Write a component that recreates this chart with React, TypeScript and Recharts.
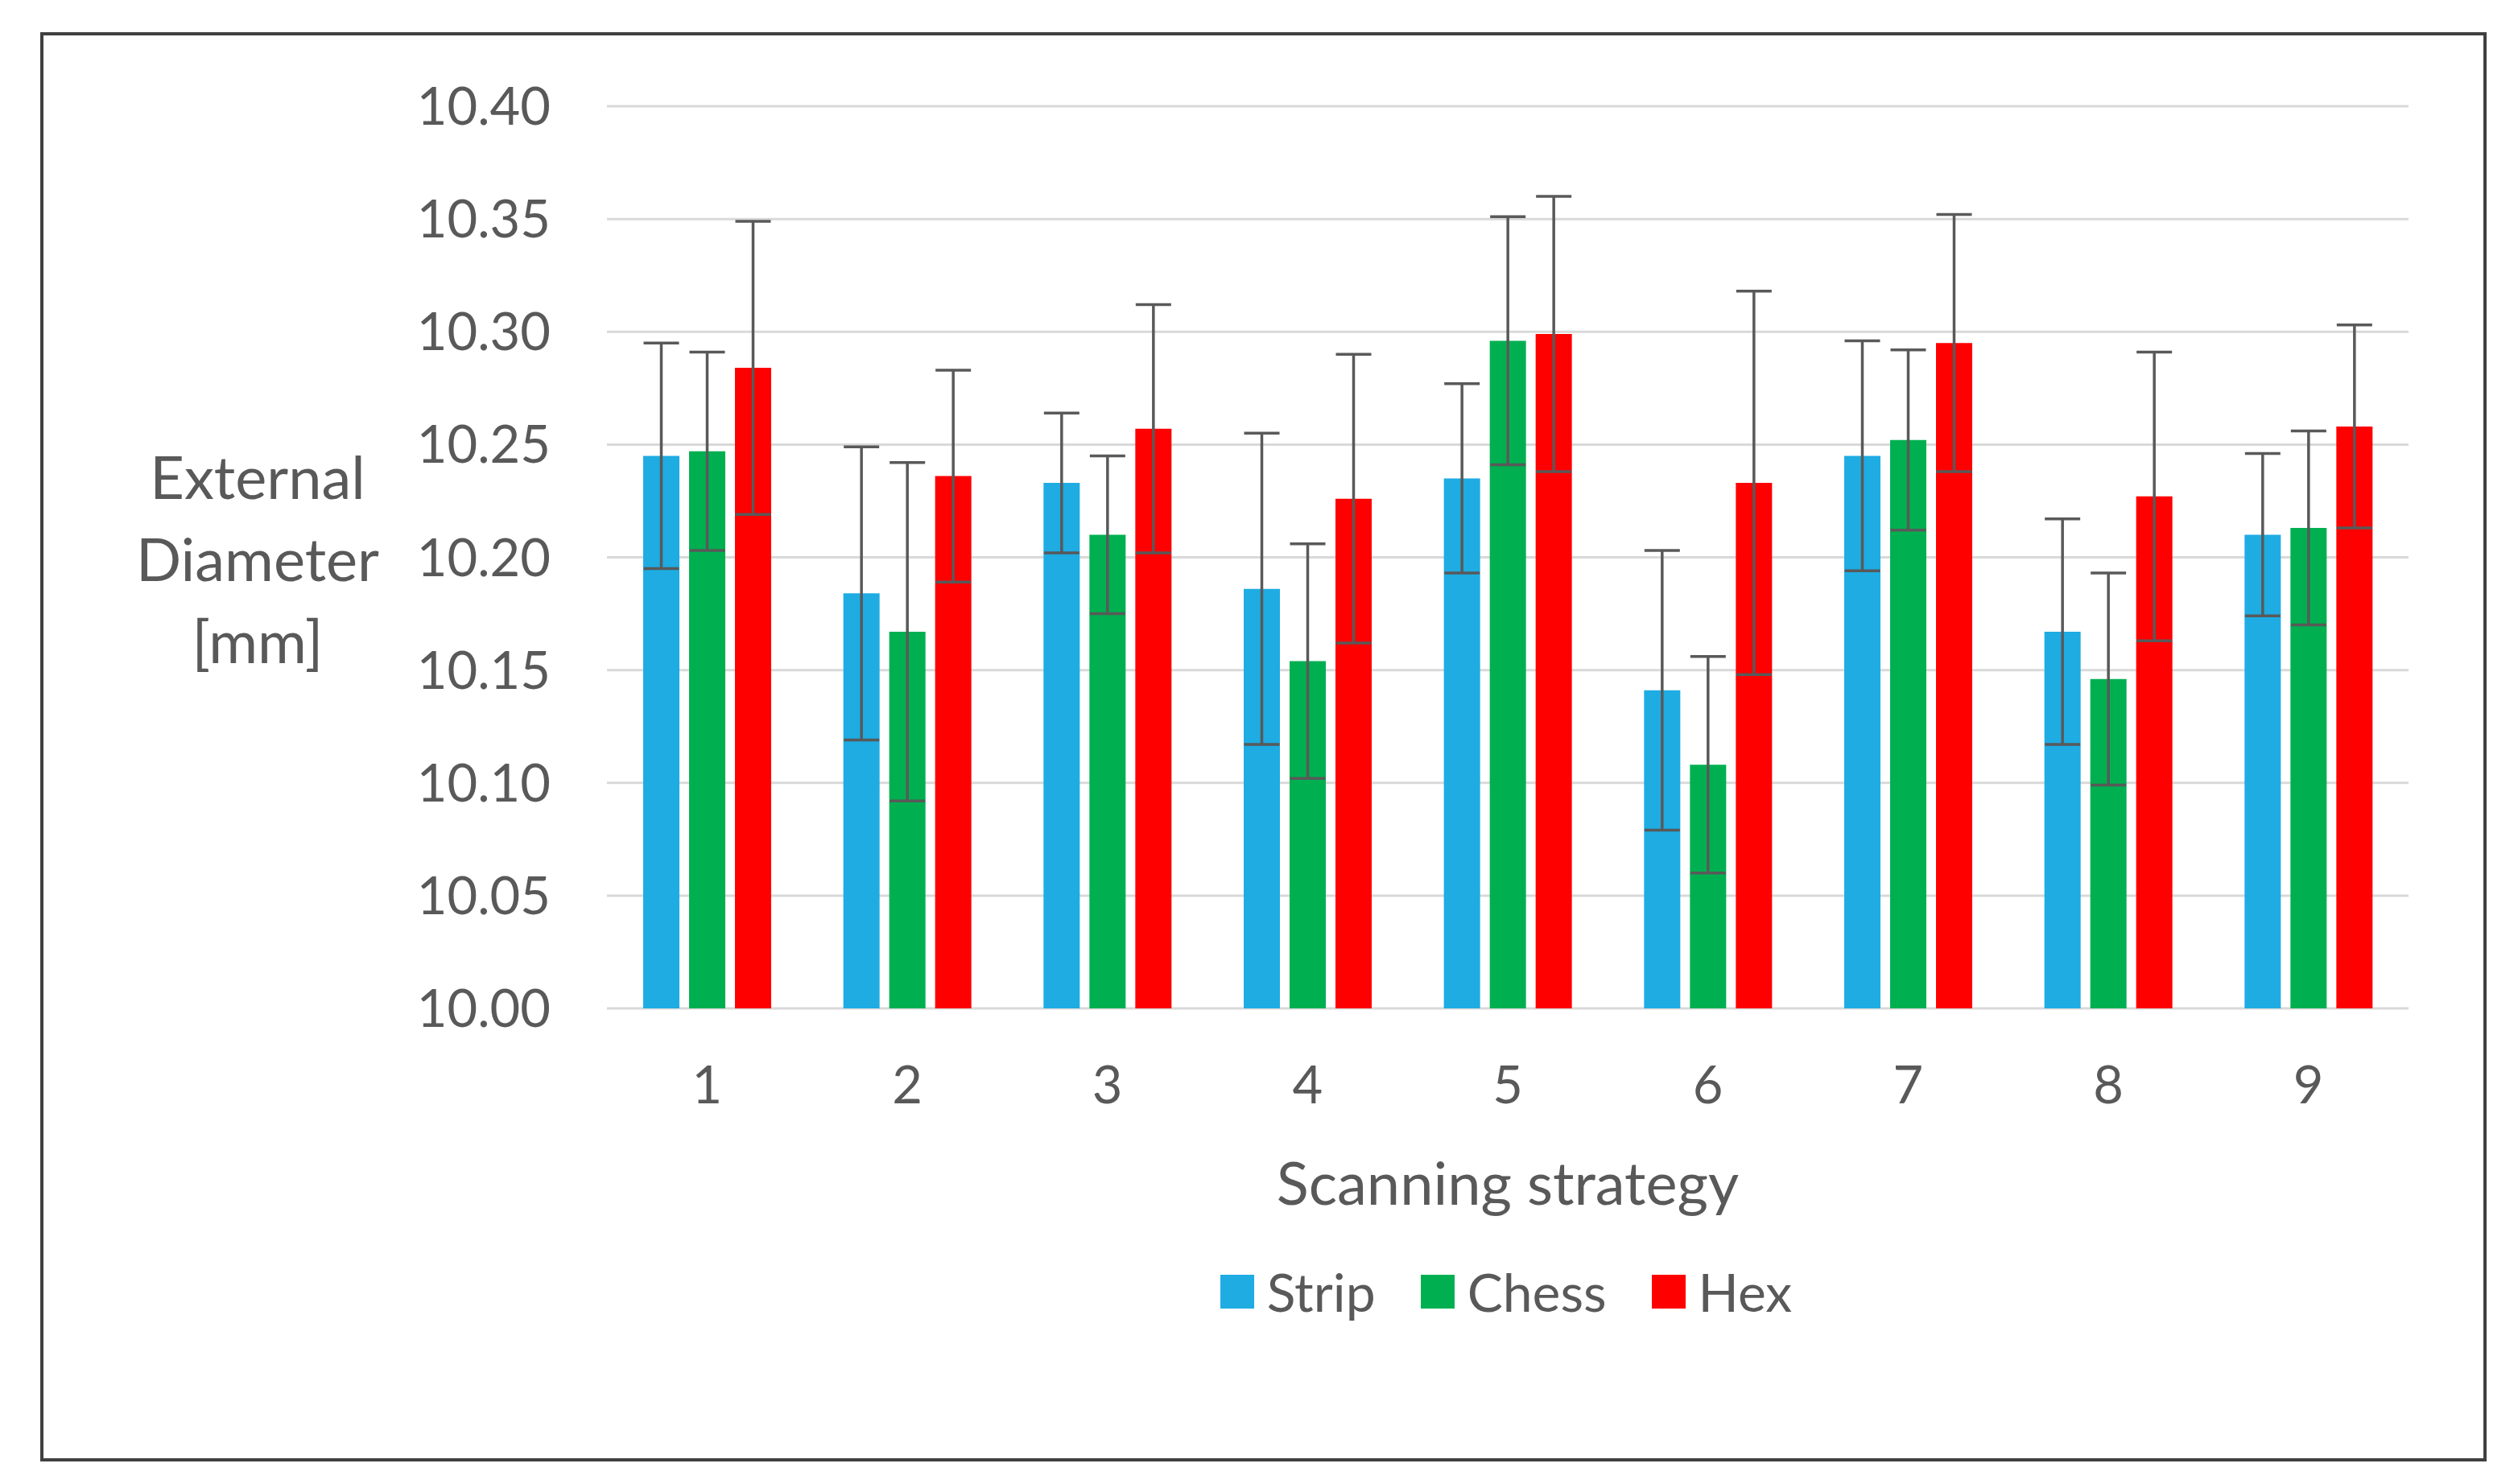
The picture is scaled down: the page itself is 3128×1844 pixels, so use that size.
import React from "react";
import {
  BarChart,
  Bar,
  XAxis,
  YAxis,
  CartesianGrid,
  ErrorBar,
  Legend,
} from "recharts";

// values
const strategies = ["1", "2", "3", "4", "5", "6", "7", "8", "9"];
const stripMean = [10.245, 10.184, 10.233, 10.186, 10.235, 10.141, 10.245, 10.167, 10.21];
const stripErr = [0.05, 0.065, 0.031, 0.069, 0.042, 0.062, 0.051, 0.05, 0.036];
const chessMean = [10.247, 10.167, 10.21, 10.154, 10.296, 10.108, 10.252, 10.146, 10.213];
const chessErr = [0.044, 0.075, 0.035, 0.052, 0.055, 0.048, 0.04, 0.047, 0.043];
const hexMean = [10.284, 10.236, 10.257, 10.226, 10.299, 10.233, 10.295, 10.227, 10.258];
const hexErr = [0.065, 0.047, 0.055, 0.064, 0.061, 0.085, 0.057, 0.064, 0.045];
const yTicks = [10.0, 10.05, 10.1, 10.15, 10.2, 10.25, 10.3, 10.35, 10.4];
const seriesOrder = ["Strip", "Chess", "Hex"];

const data = strategies.map((s, i) => ({
  name: s,
  strip: stripMean[i],
  stripErr: stripErr[i],
  chess: chessMean[i],
  chessErr: chessErr[i],
  hex: hexMean[i],
  hexErr: hexErr[i],
}));

const FONT = "Lato, 'Open Sans', sans-serif";
const TEXT = "#595959";
const ERR = "#595959";

const renderYLabel = () => (
  <text
    x={320}
    textAnchor="middle"
    fill={TEXT}
    fontSize={74}
    fontFamily={FONT}
  >
    <tspan x={320} y={620}>External</tspan>
    <tspan x={320} y={722}>Diameter</tspan>
    <tspan x={320} y={824}>[mm]</tspan>
  </text>
);

const renderXLabel = () => (
  <text
    x={1873}
    y={1497}
    textAnchor="middle"
    fill={TEXT}
    fontSize={74}
    fontFamily={FONT}
  >
    Scanning strategy
  </text>
);

const legendText = (value: string) => (
  <span
    style={{
      color: TEXT,
      fontSize: 66,
      fontFamily: FONT,
      marginLeft: 12,
      marginRight: 46,
      verticalAlign: "middle",
    }}
  >
    {value}
  </span>
);

export default function App() {
  return (
    <div
      style={{
        position: "absolute",
        left: 0,
        top: 0,
        width: 3128,
        height: 1844,
        background: "#fff",
      }}
    >
      <div
        style={{
          position: "absolute",
          left: 50,
          top: 40,
          width: 3031,
          height: 1768,
          border: "4px solid #404040",
        }}
      />
      <div style={{ position: "absolute", left: 0, top: 0 }}>
        <BarChart
          width={3128}
          height={1844}
          data={data}
          margin={{ top: 132, right: 136, left: 554, bottom: 341 }}
          barCategoryGap={45}
          barGap={12}
        >
          <CartesianGrid
            vertical={false}
            stroke="#D9D9D9"
            strokeWidth={3}
          />
          <XAxis
            dataKey="name"
            height={250}
            axisLine={false}
            tickLine={false}
            tickSize={0}
            tickMargin={72}
            tick={{ fill: TEXT, fontSize: 65, fontFamily: FONT }}
            label={{ content: renderXLabel }}
          />
          <YAxis
            width={200}
            domain={[10, 10.4]}
            ticks={yTicks}
            interval={0}
            axisLine={false}
            tickLine={false}
            tickSize={0}
            tickMargin={70}
            tickFormatter={(v: number) => v.toFixed(2)}
            tick={{ fill: TEXT, fontSize: 65, fontFamily: FONT }}
            label={{ content: renderYLabel }}
          />
          <Legend
            verticalAlign="middle"
            align="center"
            layout="horizontal"
            iconType="square"
            iconSize={42}
            itemSorter={(item: any) => seriesOrder.indexOf(item.value)}
            formatter={legendText}
            wrapperStyle={{ top: 1566, left: 780, width: 2238, lineHeight: "76px" }}
          />
          <Bar dataKey="strip" name="Strip" fill="#1EACE3" isAnimationActive={false}>
            <ErrorBar dataKey="stripErr" width={22} stroke={ERR} strokeWidth={3.5} />
          </Bar>
          <Bar dataKey="chess" name="Chess" fill="#00B050" isAnimationActive={false}>
            <ErrorBar dataKey="chessErr" width={22} stroke={ERR} strokeWidth={3.5} />
          </Bar>
          <Bar dataKey="hex" name="Hex" fill="#FF0000" isAnimationActive={false}>
            <ErrorBar dataKey="hexErr" width={22} stroke={ERR} strokeWidth={3.5} />
          </Bar>
        </BarChart>
      </div>
    </div>
  );
}
